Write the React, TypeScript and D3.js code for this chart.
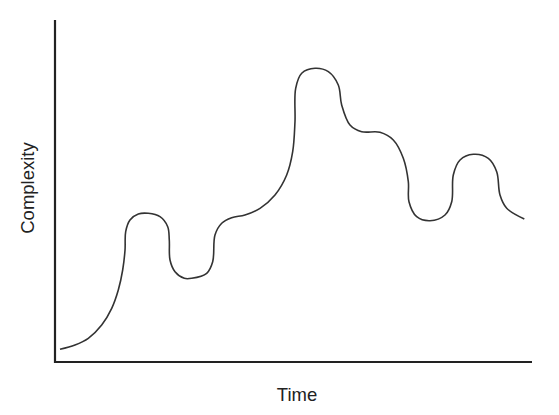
import React from "react";
import * as d3 from "d3";

const time = [1.05, 4.19, 6.98, 9.79, 11.89, 13.27, 14.19, 14.68, 14.82, 15.72, 17.46, 19.56, 22.01, 23.63, 23.96, 24.11, 25.16, 27.11, 28.66, 31.8, 33.06, 33.54, 34.95, 37.04, 39.83, 42.98, 46.12, 48.57, 49.83, 50.31, 50.46, 51.72, 54.51, 57.3, 59.39, 60.1, 61.84, 64.3, 68.13, 70.92, 73.02, 74.07, 74.21, 75.83, 78.62, 81.76, 83.17, 83.5, 84.91, 87.69, 90.84, 92.6, 93.29, 94.7, 98.39];
const complexity = [3.7, 4.97, 6.93, 10.82, 15.7, 21.05, 26.9, 32.75, 38.1, 41.52, 43.27, 43.48, 42.49, 39.56, 35.67, 29.82, 26.4, 24.47, 24.47, 25.94, 29.33, 37.13, 40.56, 42.19, 42.98, 44.94, 48.83, 54.68, 61.49, 70.26, 80.03, 84.42, 85.88, 84.88, 80.99, 75.15, 69.3, 67.34, 67.16, 64.91, 59.56, 52.72, 46.87, 42.49, 41.32, 42.98, 46.87, 54.68, 59.06, 60.73, 59.56, 55.64, 48.83, 44.94, 41.81];

const W = 559;
const H = 415;
const left = 55;
const right = 532;
const top = 20;
const bottom = 362;

export default function App() {
  const x = d3.scaleLinear().domain([0, 100]).range([left, right]);
  const y = d3.scaleLinear().domain([0, 100]).range([bottom, top]);
  const pts: [number, number][] = time.map((t, i) => [t, complexity[i]]);
  const line = d3
    .line<[number, number]>()
    .x((d) => x(d[0]))
    .y((d) => y(d[1]))
    .curve(d3.curveCatmullRom.alpha(0.5));
  return (
    <svg
      width={W}
      height={H}
      style={{ position: "absolute", left: 0, top: 0, background: "#fff" }}
    >
      <path d={line(pts) || ""} fill="none" stroke="#333" strokeWidth={1.6} />
      <line x1={left} y1={top} x2={left} y2={bottom + 1} stroke="#222" strokeWidth={2.2} />
      <line x1={left - 1} y1={bottom} x2={right} y2={bottom} stroke="#222" strokeWidth={2.2} />
      <text
        x={297}
        y={401}
        textAnchor="middle"
        fontFamily="Liberation Sans, Arial, sans-serif"
        fontSize={18.5}
        fill="#222"
      >
        Time
      </text>
      <text
        transform={`translate(34, 188) rotate(-90)`}
        textAnchor="middle"
        fontFamily="Liberation Sans, Arial, sans-serif"
        fontSize={18.5}
        fill="#222"
      >
        Complexity
      </text>
    </svg>
  );
}
